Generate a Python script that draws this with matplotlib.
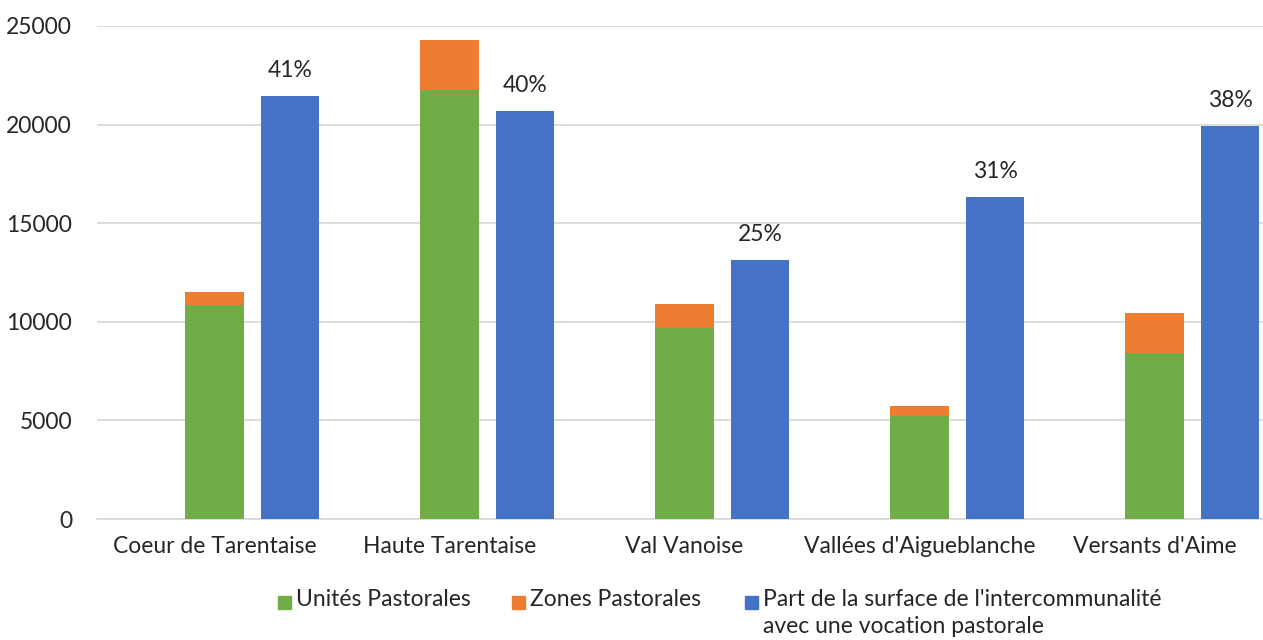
import matplotlib
matplotlib.use('Agg')
import matplotlib.pyplot as plt
from matplotlib.patches import Rectangle
import numpy as np

categories = ["Coeur de Tarentaise", "Haute Tarentaise", "Val Vanoise",
              "Vallées d'Aigueblanche", "Versants d'Aime"]
unites = [10850, 21750, 9700, 5220, 8420]
zones = [660, 2540, 1200, 510, 2030]
surface = [21450, 20690, 13130, 16330, 19930]
pct_labels = ["41%", "40%", "25%", "31%", "38%"]

legend_labels = ["Unités Pastorales", "Zones Pastorales",
                 "Part de la surface de l'intercommunalité\navec une vocation pastorale"]

GREEN = '#70AD47'
ORANGE = '#ED7D31'
BLUE = '#4472C4'
TXT = '#262626'

plt.rcParams['font.family'] = ['Lato', 'DejaVu Sans']

fig = plt.figure(figsize=(12.63, 6.4), dpi=100)
ax = fig.add_axes([97 / 1263, 121 / 640, 1175 / 1263, 493 / 640])

x = np.arange(len(categories))
w = 0.247
off = 0.323

ax.bar(x, unites, w, color=GREEN, zorder=3)
ax.bar(x, zones, w, bottom=unites, color=ORANGE, zorder=3)
bars = ax.bar(x + off, surface, w, color=BLUE, zorder=3)

for b, lab in zip(bars, pct_labels):
    ax.annotate(lab, (b.get_x() + b.get_width() / 2, b.get_height()),
                xytext=(0, 11), textcoords='offset points', ha='center', va='bottom',
                fontsize=16.5, color=TXT)

ax.set_xlim(-0.5, 4.5)
ax.set_ylim(0, 25000)
ax.set_yticks(range(0, 25001, 5000))
ax.set_xticks(x)
ax.set_xticklabels(categories)
ax.tick_params(axis='both', length=0, labelsize=16.5, labelcolor=TXT)
ax.tick_params(axis='y', pad=18)
ax.tick_params(axis='x', pad=12)
ax.grid(axis='y', color='#d9d9d9', linewidth=1.3, zorder=0)
for s in ['top', 'right', 'left']:
    ax.spines[s].set_visible(False)
ax.spines['bottom'].set_color('#d9d9d9')
ax.spines['bottom'].set_linewidth(1.3)

# legend drawn by hand so the blue square sits on the first line
leg_x = [278, 512, 745]
leg_y = 602
for col, lx, lab in zip([GREEN, ORANGE, BLUE], leg_x, legend_labels):
    fig.patches.append(Rectangle((lx / 1263, (640 - leg_y - 7) / 640), 13 / 1263, 13 / 640,
                                 transform=fig.transFigure, color=col))
    fig.text((lx + 18) / 1263, (640 - leg_y + 13) / 640, lab, fontsize=16.5,
             color=TXT, va='top', ha='left', linespacing=1.35)

fig.savefig('out.png', dpi=100)
